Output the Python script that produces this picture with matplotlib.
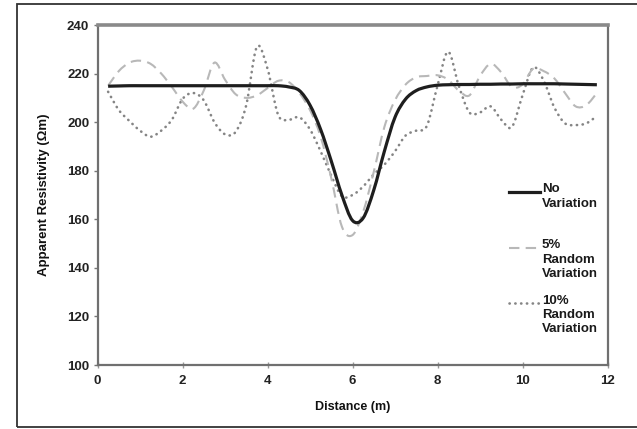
import matplotlib
matplotlib.use("Agg")
import matplotlib.pyplot as plt
from matplotlib.patches import Rectangle, PathPatch
from matplotlib.path import Path
from matplotlib.lines import Line2D

plt.rcParams['font.family'] = ['Liberation Sans', 'DejaVu Sans']

distance = [0.25, 0.5, 0.75, 1.0, 1.25, 1.5, 1.75, 2.0, 2.25, 2.5, 2.75, 3.0,
            3.25, 3.5, 3.75, 4.0, 4.25, 4.5, 4.75, 5.0, 5.25, 5.5, 5.75, 6.0,
            6.25, 6.5, 6.75, 7.0, 7.25, 7.5, 7.75, 8.0, 8.25, 8.5, 8.75, 9.0,
            9.25, 9.5, 9.75, 10.0, 10.25, 10.5, 10.75, 11.0, 11.25, 11.5, 11.75]

no_variation = [214.8, 214.9, 215, 215, 215, 215, 215, 215, 215, 215, 215, 215,
                215, 215, 215, 215, 215, 214.5, 213, 207, 197, 184, 170, 159.5,
                160.5, 172, 188, 202, 209.5, 213, 214.5, 215.2, 215.4, 215.5, 215.5, 215.6,
                215.6, 215.7, 215.7, 215.8, 215.8, 215.8, 215.8, 215.7, 215.6, 215.5, 215.4]

random_5 = [215, 221, 224.5, 225.3, 224, 220, 214.5, 208.5, 205.5, 213, 224.5, 217.5,
            211.5, 210, 211, 214, 217, 216.5, 212, 205, 194, 177, 157, 153.5,
            163, 179.5, 198, 209, 215.5, 218.5, 219, 219.3, 217.5, 213, 211, 219,
            224, 220.5, 214.5, 215.5, 222, 221, 218, 212, 206.5, 207, 212]

random_10 = [212.5, 205, 200.5, 196.5, 194, 196.5, 201, 209.5, 212, 209, 200, 195,
             196, 207, 231, 222, 203, 201, 202, 197, 188, 178, 169.5, 170,
             173.5, 178.5, 182.5, 188, 194.5, 196.5, 198.5, 215, 229, 215, 204, 204,
             206.5, 201, 198, 211, 222.5, 217, 206, 199.5, 198.8, 199.5, 202.5]

x_ticks = [0, 2, 4, 6, 8, 10, 12]
y_ticks = [100, 120, 140, 160, 180, 200, 220, 240]
legend_labels = ["No\nVariation", "5%\nRandom\nVariation", "10%\nRandom\nVariation"]


def smooth_path(xs, ys):
    """Excel-style smoothed line: cubic Bezier through every data point."""
    n = len(xs)
    verts = [(xs[0], ys[0])]
    codes = [Path.MOVETO]
    for i in range(n - 1):
        xp, yp = (xs[i - 1], ys[i - 1]) if i > 0 else (xs[i], ys[i])
        xn2, yn2 = (xs[i + 2], ys[i + 2]) if i + 2 < n else (xs[i + 1], ys[i + 1])
        c1 = (xs[i] + (xs[i + 1] - xp) / 6.0, ys[i] + (ys[i + 1] - yp) / 6.0)
        c2 = (xs[i + 1] - (xn2 - xs[i]) / 6.0, ys[i + 1] - (yn2 - ys[i]) / 6.0)
        verts += [c1, c2, (xs[i + 1], ys[i + 1])]
        codes += [Path.CURVE4, Path.CURVE4, Path.CURVE4]
    return Path(verts, codes)


fig = plt.figure(figsize=(6.37, 4.29), dpi=100)
fig.patch.set_facecolor('white')

# figure frame
fig.patches.append(Rectangle((17 / 637, 2 / 429), 1.0, 1 - 6 / 429,
                             transform=fig.transFigure, fill=False,
                             edgecolor='#333333', linewidth=1.3))

ax = fig.add_axes([97.5 / 637, 1 - 365 / 429, 510 / 637, 340 / 429])

styles = [
    (random_10, dict(edgecolor='#858585', linewidth=1.9, linestyle=(0, (0.1, 2.1)),
                     capstyle='round')),
    (random_5, dict(edgecolor='#b8b8b8', linewidth=1.5, linestyle=(0, (5, 3)))),
    (no_variation, dict(edgecolor='#1e1e1e', linewidth=2.3)),
]
for series, st in styles:
    ax.add_patch(PathPatch(smooth_path(distance, series), facecolor='none', **st))

ax.set_xlim(0, 12)
ax.set_ylim(100, 240)
ax.set_xticks(x_ticks)
ax.set_yticks(y_ticks)
ax.set_xticklabels([str(v) for v in x_ticks], fontsize=9.5, fontweight='bold', color='#222222')
ax.set_yticklabels([str(v) for v in y_ticks], fontsize=9.5, fontweight='bold', color='#222222')
ax.tick_params(axis='y', direction='out', length=3, width=1, color='#777777', pad=3)
ax.tick_params(axis='x', direction='inout', length=4, width=1, color='#999999', pad=5)

for side in ['left', 'right', 'bottom']:
    ax.spines[side].set_color('#707070')
    ax.spines[side].set_linewidth(1.6)
ax.spines['top'].set_color('#8a8a8a')
ax.spines['top'].set_linewidth(2.6)

ax.set_xlabel("Distance (m)", fontsize=9, fontweight='bold', labelpad=10, color='#111111')
ax.set_ylabel("Apparent Resistivity (Ωm)", fontsize=9.5, fontweight='bold', labelpad=12,
              color='#111111')

# legend drawn inside the axes
y_pos = [1 - (192 - 25) / 340, 1 - (248 - 25) / 340, 1 - (303 - 25) / 340]
x0 = (509 - 97.5) / 510
x1 = (540 - 97.5) / 510
xt = (542 - 97.5) / 510
for (series, st), lab, yy in zip(styles[::-1], legend_labels, y_pos):
    ax.add_line(Line2D([x0, x1], [yy, yy], transform=ax.transAxes,
                       color=st['edgecolor'], linewidth=st['linewidth'],
                       linestyle=st.get('linestyle', '-'),
                       dash_capstyle=st.get('capstyle', 'butt')))
    ax.text(xt, yy + 0.025, lab, transform=ax.transAxes, fontsize=9.5, fontweight='bold',
            color='#1a1a1a', va='top', ha='left', linespacing=1.25)

fig.savefig("out.png", dpi=100)
